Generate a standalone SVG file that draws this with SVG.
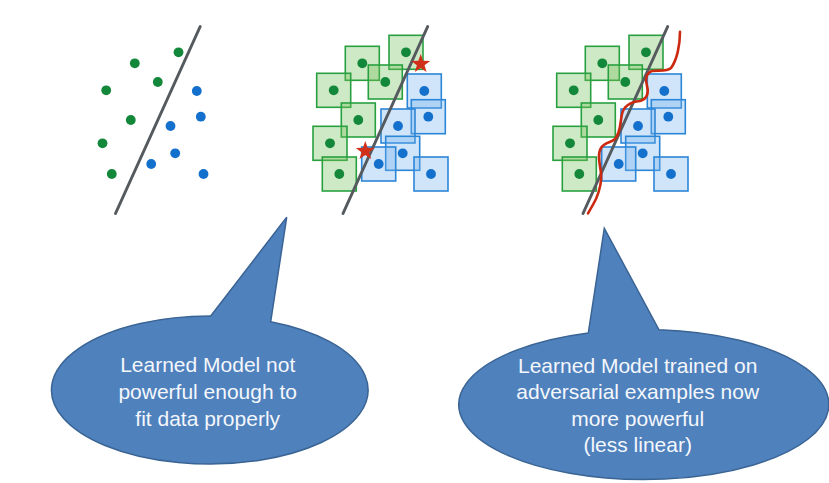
<svg xmlns="http://www.w3.org/2000/svg" xmlns:xlink="http://www.w3.org/1999/xlink" width="829" height="483" viewBox="0 0 829 483">
<style>
.gd{fill:#13883a}
.bd{fill:#1370cc}
.gb{fill:#72c05a;fill-opacity:0.35;stroke:#28a040;stroke-width:1.6}
.bb{fill:#6fb0ee;fill-opacity:0.33;stroke:#2c86d8;stroke-width:1.6}
.sep{stroke:#555a5f;stroke-width:3;stroke-linecap:round;fill:none}
.star{fill:#d0301a}
.wave{fill:none;stroke:#cc2a10;stroke-width:2.6;stroke-linecap:round}
.bubble{fill:#4f81bd;stroke:#3a6494;stroke-width:1.5}
.lbl{font-family:"Liberation Sans",Arial,sans-serif;font-size:21px;fill:#f4f7fb;text-anchor:middle}
</style>
<defs>
<circle id="gdot" r="4.9" class="gd"/>
<circle id="bdot" r="4.9" class="bd"/>
<rect id="gbox" x="-17" y="-17" width="34" height="34" class="gb"/>
<rect id="bbox" x="-17" y="-17" width="34" height="34" class="bb"/>
<path id="star" class="star" d="M0,-10 L2.35,-3.24 L9.51,-3.09 L3.8,1.24 L5.88,8.09 L0,4 L-5.88,8.09 L-3.8,1.24 L-9.51,-3.09 L-2.35,-3.24 Z"/>
<g id="dots">
<use href="#gdot" x="406" y="52.3"/>
<use href="#gdot" x="362.3" y="63.3"/>
<use href="#gdot" x="385.3" y="82"/>
<use href="#gdot" x="333.7" y="90.3"/>
<use href="#gdot" x="358.3" y="120"/>
<use href="#gdot" x="330" y="143.3"/>
<use href="#gdot" x="339.3" y="174"/>
<use href="#bdot" x="424.3" y="91"/>
<use href="#bdot" x="428.3" y="116.7"/>
<use href="#bdot" x="398" y="126"/>
<use href="#bdot" x="402.7" y="153.3"/>
<use href="#bdot" x="378.7" y="164"/>
<use href="#bdot" x="431" y="174"/>
</g>
<g id="boxes">
<use href="#gbox" x="406" y="52.3"/>
<use href="#gbox" x="362.3" y="63.3"/>
<use href="#gbox" x="385.3" y="82"/>
<use href="#gbox" x="333.7" y="90.3"/>
<use href="#gbox" x="358.3" y="120"/>
<use href="#gbox" x="330" y="143.3"/>
<use href="#gbox" x="339.3" y="174"/>
<use href="#bbox" x="424.3" y="91"/>
<use href="#bbox" x="428.3" y="116.7"/>
<use href="#bbox" x="398" y="126"/>
<use href="#bbox" x="402.7" y="153.3"/>
<use href="#bbox" x="378.7" y="164"/>
<use href="#bbox" x="431" y="174"/>
</g>
</defs>
<rect width="829" height="483" fill="#ffffff"/>

<g id="panel1" transform="translate(-227.5,0)">
<use href="#dots"/>
<line class="sep" x1="427.7" y1="26.5" x2="343" y2="213.5"/>
</g>

<g id="panel2">
<use href="#boxes"/>
<use href="#dots"/>
<line class="sep" x1="427.7" y1="26.5" x2="343" y2="213.5"/>
<use href="#star" x="420.7" y="64"/>
<use href="#star" x="365.3" y="151"/>
</g>

<g id="panel3" transform="translate(240,0)">
<use href="#boxes"/>
<use href="#dots"/>
<line class="sep" x1="427.7" y1="26.5" x2="343" y2="213.5"/>
</g>
<path class="wave" d="M680,31.7 C680,45 677,60 671,68 C667,72 658,70 652,71 C646,73 645,80 647,86 C649,93 647,99 640,101 C631,102 624,105 622,114 C620,122 621,132 615,139 C611,143 605,142 601,148 C597,154 600,165 601,173 C602,183 599,192 596,199 C593,205 590,210 588,213.3"/>

<g id="callout1">
<path class="bubble" d="M210.7,316 L286.7,217.3 L270.7,321.7 A158.3,74 0 1 1 210.7,316 Z"/>
<text class="lbl" x="207.7" y="372">Learned Model not</text>
<text class="lbl" x="207.7" y="399">powerful enough to</text>
<text class="lbl" x="207.7" y="426">fit data properly</text>
</g>

<g id="callout2">
<path class="bubble" d="M588.3,333 L604.3,228.3 L659,329.8 A185,75 0 1 1 588.3,333 Z"/>
<text class="lbl" x="637.7" y="372.5">Learned Model trained on</text>
<text class="lbl" x="637.7" y="399">adversarial examples now</text>
<text class="lbl" x="637.7" y="425.5">more powerful</text>
<text class="lbl" x="637.7" y="452">(less linear)</text>
</g>
</svg>
